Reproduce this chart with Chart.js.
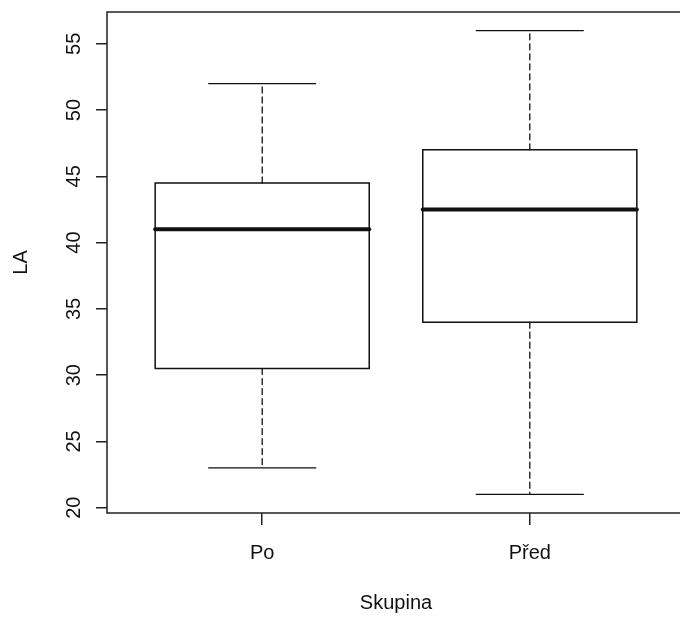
<!DOCTYPE html>
<html>
<head>
<meta charset="utf-8">
<script src="https://cdn.jsdelivr.net/npm/chart.js@4"></script>
<style>
  html, body { margin: 0; padding: 0; overflow: hidden; background: #fff; }
  #wrap { width: 692px; height: 617px; }
</style>
</head>
<body>
<div id="wrap"><canvas id="c" width="692" height="617"></canvas></div>
<script>
const groups = ["Po", "Před"];
const lowWhisker = [23, 21];
const q1 = [30.5, 34];
const medians = [41, 42.5];
const q3 = [44.5, 47];
const highWhisker = [52, 56];
const yTicks = [20, 25, 30, 35, 40, 45, 50, 55];

const FONT = { family: '"Liberation Sans", Arial, sans-serif', size: 20 };
const INK = "#111";
const BOX_HALF = 0.4;
const CAP_HALF = 0.2;

function seg(points, width, dash) {
    return {
        data: points.map(p => ({ x: p[0], y: p[1] })),
        showLine: true,
        borderColor: INK,
        borderWidth: width,
        borderDash: dash || [],
        borderCapStyle: "round",
        pointRadius: 0,
        fill: false
    };
}

const datasets = [];
groups.forEach((g, i) => {
    const x = i + 1;
    // median on top
    datasets.push(seg([[x - BOX_HALF, medians[i]], [x + BOX_HALF, medians[i]]], 4));
    // box
    datasets.push(seg([
        [x - BOX_HALF, q1[i]], [x + BOX_HALF, q1[i]], [x + BOX_HALF, q3[i]],
        [x - BOX_HALF, q3[i]], [x - BOX_HALF, q1[i]]
    ], 1.5));
    // whiskers
    datasets.push(seg([[x, q3[i]], [x, highWhisker[i]]], 1.3, [6, 4]));
    datasets.push(seg([[x, q1[i]], [x, lowWhisker[i]]], 1.3, [6, 4]));
    // staples
    datasets.push(seg([[x - CAP_HALF, highWhisker[i]], [x + CAP_HALF, highWhisker[i]]], 1.3));
    datasets.push(seg([[x - CAP_HALF, lowWhisker[i]], [x + CAP_HALF, lowWhisker[i]]], 1.3));
});

const framePlugin = {
    id: "frame",
    afterDraw(chart) {
        const { ctx, chartArea: a, scales: { y } } = chart;
        ctx.save();
        ctx.strokeStyle = "#222";
        ctx.lineWidth = 1.5;
        ctx.strokeRect(a.left, a.top, a.right - a.left, a.bottom - a.top);
        // rotated y tick labels, like R's default las=0
        ctx.fillStyle = INK;
        ctx.font = FONT.size + "px " + FONT.family;
        ctx.textAlign = "center";
        ctx.textBaseline = "alphabetic";
        y.ticks.forEach(t => {
            ctx.save();
            ctx.translate(a.left - 27, y.getPixelForValue(t.value));
            ctx.rotate(-Math.PI / 2);
            ctx.fillText(String(t.value), 0, 0);
            ctx.restore();
        });
        ctx.restore();
    }
};

new Chart(document.getElementById("c"), {
    type: "scatter",
    data: { datasets: datasets },
    options: {
        responsive: false,
        animation: false,
        layout: { padding: { left: 0, top: 12, right: 7, bottom: 0 } },
        plugins: { legend: { display: false }, tooltip: { enabled: false } },
        scales: {
            x: {
                type: "linear",
                min: 0.42,
                max: 2.58,
                afterBuildTicks: s => { s.ticks = groups.map((g, i) => ({ value: i + 1 })); },
                afterFit: s => { s.height = 104; },
                ticks: {
                    autoSkip: false,
                    maxRotation: 0,
                    padding: 16,
                    color: INK,
                    font: FONT,
                    callback: (v, i) => groups[i]
                },
                grid: { drawOnChartArea: false, drawTicks: true, tickLength: 12, color: "#222", lineWidth: 1.5 },
                border: { display: false },
                title: { display: true, text: "Skupina", color: INK, font: FONT, padding: { top: 0, bottom: 2 } }
            },
            y: {
                type: "linear",
                min: 19.6,
                max: 57.4,
                afterBuildTicks: s => { s.ticks = yTicks.map(v => ({ value: v })); },
                afterFit: s => { s.width = 107; },
                ticks: { display: false },
                grid: { drawOnChartArea: false, drawTicks: true, tickLength: 11, color: "#222", lineWidth: 1.5 },
                border: { display: false },
                title: { display: true, text: "LA", color: INK, font: FONT, padding: { top: 9, bottom: 0 } }
            }
        }
    },
    plugins: [framePlugin]
});
</script>
</body>
</html>
